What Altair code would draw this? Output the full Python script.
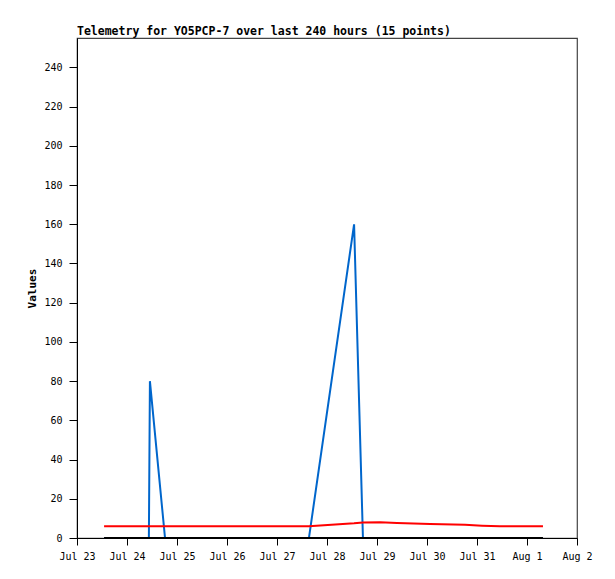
import altair as alt
import pandas as pd

# ---- data ----
times = [
    "2024-07-23T13:00:00", "2024-07-24T10:30:00", "2024-07-24T11:00:00",
    "2024-07-24T18:15:00", "2024-07-27T15:20:00", "2024-07-28T13:00:00",
    "2024-07-28T17:15:00", "2024-07-29T01:30:00", "2024-07-29T09:35:00",
    "2024-07-30T01:30:00", "2024-07-30T18:15:00", "2024-07-31T02:25:00",
    "2024-07-31T11:00:00", "2024-07-31T20:40:00", "2024-08-01T07:40:00",
]
blue_values = [0, 0, 80, 0, 0, 160, 0, 0, 0, 0, 0, 0, 0, 0, 0]
red_values = [6.0, 6.0, 6.0, 6.0, 6.0, 7.5, 7.9, 8.0, 7.7, 7.2, 6.7, 6.3, 6.0, 6.0, 6.0]
black_values = [0, 0, 0, 0, 0, 0, 0, 0, 0, 0, 0, 0, 0, 0, 0]

series_names = ["Series 1", "Series 2", "Series 3"]
series_colors = ["#0066cc", "#ff0000", "#000000"]
y_ticks = [0, 20, 40, 60, 80, 100, 120, 140, 160, 180, 200, 220, 240]

rows = []
for name, vals in zip(series_names, [blue_values, red_values, black_values]):
    for t, v in zip(times, vals):
        rows.append({"time": t, "value": v, "series": name})
df = pd.DataFrame(rows)

font = "DejaVu Sans Mono"

x_enc = alt.X(
    "time:T",
    scale=alt.Scale(
        domain=[alt.DateTime(year=2024, month=7, date=23),
                alt.DateTime(year=2024, month=8, date=2)],
        nice=False,
    ),
    axis=alt.Axis(
        title=None, format="%b %-d",
        tickCount=alt.TimeIntervalStep(interval="day", step=1),
        grid=False, domainColor="black", tickColor="black", tickSize=7,
        labelFont=font, labelFontSize=10, labelColor="black", labelPadding=6,
        labelFlush=False, labelOverlap=False,
    ),
)
y_enc = alt.Y(
    "value:Q",
    scale=alt.Scale(domain=[0, 255], nice=False),
    axis=alt.Axis(
        title="Values", values=y_ticks, grid=False,
        domainColor="black", tickColor="black", tickSize=8,
        labelFont=font, labelFontSize=10, labelColor="black", labelPadding=7,
        titleFont=font, titleFontSize=11, titleFontWeight="bold", titleColor="black",
        titleX=-45, titleY=250, titleBaseline="middle", titleAngle=-90,
    ),
)

layers = []
for name, color in zip(series_names, series_colors):
    layers.append(
        alt.Chart(df)
        .transform_filter(alt.datum.series == name)
        .mark_line(color=color, strokeWidth=2, interpolate="linear")
        .encode(x=x_enc, y=y_enc)
    )

chart = (
    alt.layer(*layers)
    .properties(
        width=500, height=500,
        title=alt.TitleParams(
            "Telemetry for YO5PCP-7 over last 240 hours (15 points)",
            anchor="start", frame="group", font=font, fontSize=11.5,
            fontWeight="bold", color="black", offset=4, baseline="alphabetic",
            dy=12,
        ),
        view=alt.ViewBackground(stroke="#444444", strokeWidth=1.2),
        autosize=alt.AutoSizeParams(type="none"),
        padding={"left": 69, "top": 30, "right": 30, "bottom": 33},
    )
    .configure_view(stroke="#444444", strokeWidth=1.2)
    .configure(background="white")
)

chart.save("out.html", embed_options={"renderer": "svg", "actions": False})
